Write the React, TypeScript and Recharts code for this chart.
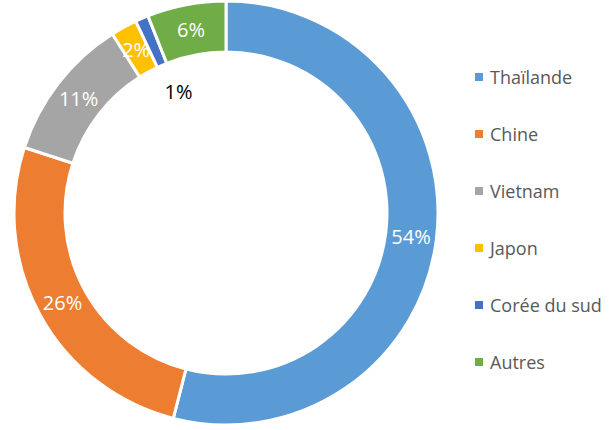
import { PieChart, Pie, Cell, Legend } from 'recharts';

const countries = ['Thaïlande', 'Chine', 'Vietnam', 'Japon', 'Corée du sud', 'Autres'];
const shares = [54, 26, 11, 2, 1, 6];
const colors = ['#5B9BD5', '#ED7D31', '#A5A5A5', '#FFC000', '#4472C4', '#70AD47'];

const data = countries.map((name, i) => ({ name, value: shares[i] }));

const FONT = '"Open Sans", "Noto Sans", sans-serif';
const RAD = Math.PI / 180;

function renderLabel(props: any) {
  const { cx, cy, midAngle, innerRadius, outerRadius, value } = props;
  const small = value <= 1;
  // the tiny slice gets its label pushed inside the hole, in black
  const r = small ? innerRadius - 29 : (innerRadius + outerRadius) / 2;
  const x = cx + r * Math.cos(-midAngle * RAD) + (small ? 5 : 0);
  const y = cy + r * Math.sin(-midAngle * RAD);
  return (
    <text
      x={x}
      y={y}
      fill={small ? '#000' : '#fff'}
      fontSize={20}
      fontFamily={FONT}
      textAnchor="middle"
      dominantBaseline="central"
    >
      {value}%
    </text>
  );
}

function LegendBox() {
  return (
    <div style={{ fontFamily: FONT, fontSize: 18, color: '#595959' }}>
      {data.map((d, i) => (
        <div key={d.name} style={{ display: 'flex', alignItems: 'center', height: 57 }}>
          <span style={{ width: 8, height: 8, background: colors[i], marginRight: 7, display: 'inline-block' }} />
          <span>{d.name}</span>
        </div>
      ))}
    </div>
  );
}

export default function App() {
  return (
    <div style={{ position: 'absolute', left: 0, top: 0, background: '#fff' }}>
      <PieChart width={616} height={430} margin={{ top: 0, right: 0, bottom: 0, left: 0 }}>
        <Pie
          data={data}
          dataKey="value"
          nameKey="name"
          cx={226}
          cy={213}
          innerRadius={161}
          outerRadius={212}
          startAngle={90}
          endAngle={-270}
          stroke="#fff"
          strokeWidth={3}
          label={renderLabel}
          labelLine={false}
          isAnimationActive={false}
        >
          {data.map((d, i) => (
            <Cell key={d.name} fill={colors[i]} />
          ))}
        </Pie>
        <Legend
          content={<LegendBox />}
          wrapperStyle={{ position: 'absolute', left: 475, top: 48, width: 141 }}
        />
      </PieChart>
    </div>
  );
}
